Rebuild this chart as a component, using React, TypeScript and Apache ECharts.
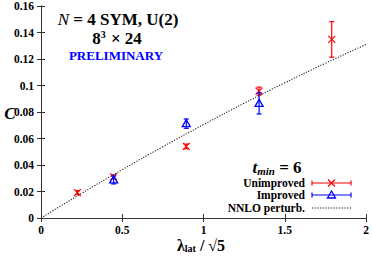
import React, { useEffect, useRef } from "react";
import * as echarts from "echarts";

const xUnimp = [0.224, 0.447, 0.894, 1.342, 1.789];
const yUnimp = [0.0192, 0.031, 0.054, 0.0958, 0.1348];
const eUnimp = [0.0015, 0.0015, 0.0018, 0.003, 0.0134];

const xImp = [0.447, 0.894, 1.342];
const yImp = [0.0287, 0.0712, 0.0865];
const eImp = [0.003, 0.0035, 0.008];

const xNNLO = [0, 0.25, 0.5, 0.75, 1, 1.25, 1.5, 1.75, 2];
const yNNLO = [0, 0.0186, 0.0365, 0.0538, 0.0705, 0.0866, 0.102, 0.1168, 0.131];

const FONT = "Liberation Serif";
const RED = "#ff0000";
const BLUE = "#0000ff";

function makeRender(kind: "x" | "tri", color: string) {
  return (params: any, api: any) => {
    const x = api.value(0);
    const y = api.value(1);
    const e = api.value(2);
    const p = api.coord([x, y]);
    const t = api.coord([x, y + e]);
    const b = api.coord([x, y - e]);
    const cap = 2.5;
    const st = { stroke: color, lineWidth: 1.2, fill: "none" };
    const children: any[] = [
      { type: "line", shape: { x1: p[0], y1: t[1], x2: p[0], y2: b[1] }, style: st },
      { type: "line", shape: { x1: p[0] - cap, y1: t[1], x2: p[0] + cap, y2: t[1] }, style: st },
      { type: "line", shape: { x1: p[0] - cap, y1: b[1], x2: p[0] + cap, y2: b[1] }, style: st },
    ];
    if (kind === "x") {
      const s = 3.5;
      children.push(
        { type: "line", shape: { x1: p[0] - s, y1: p[1] - s, x2: p[0] + s, y2: p[1] + s }, style: st },
        { type: "line", shape: { x1: p[0] - s, y1: p[1] + s, x2: p[0] + s, y2: p[1] - s }, style: st }
      );
    } else {
      const s = 4;
      children.push({
        type: "polygon",
        shape: { points: [[p[0], p[1] - s], [p[0] - s, p[1] + s * 0.75], [p[0] + s, p[1] + s * 0.75]] },
        style: { stroke: color, lineWidth: 1.3, fill: "none" },
      });
    }
    return { type: "group", children };
  };
}

function legendRow(y: number, label: string, color: string, kind: "x" | "tri" | "dot"): any[] {
  const x1 = 312, x2 = 351, cx = 331.5;
  const items: any[] = [
    {
      type: "text", x: 305, y, style: {
        text: label, fontFamily: FONT, fontWeight: "bold", fontSize: 11.5, fill: "#000", align: "right", verticalAlign: "middle",
      },
    },
  ];
  if (kind === "dot") {
    items.push({ type: "line", shape: { x1, y1: y, x2, y2: y }, style: { stroke: "#222", lineWidth: 1.1, lineDash: [1.2, 1.5] } });
    return items;
  }
  const st = { stroke: color, lineWidth: 1.2, fill: "none" };
  items.push(
    { type: "line", shape: { x1, y1: y, x2, y2: y }, style: st },
    { type: "line", shape: { x1, y1: y - 2.5, x2: x1, y2: y + 2.5 }, style: st },
    { type: "line", shape: { x1: x2, y1: y - 2.5, x2, y2: y + 2.5 }, style: st }
  );
  if (kind === "x") {
    const s = 3.5;
    items.push(
      { type: "line", shape: { x1: cx - s, y1: y - s, x2: cx + s, y2: y + s }, style: st },
      { type: "line", shape: { x1: cx - s, y1: y + s, x2: cx + s, y2: y - s }, style: st }
    );
  } else {
    const s = 4;
    items.push({ type: "polygon", shape: { points: [[cx, y - s], [cx - s, y + s * 0.75], [cx + s, y + s * 0.75]] }, style: { stroke: color, lineWidth: 1.3, fill: "none" } });
  }
  return items;
}

export default function App() {
  const ref = useRef<HTMLDivElement>(null);
  useEffect(() => {
    if (!ref.current) return;
    const chart = echarts.init(ref.current, null, { renderer: "svg" });
    const axisLine = { show: true, lineStyle: { color: "#333", width: 1 } };
    const tick = { show: true, inside: true, length: 4, lineStyle: { color: "#333" } };
    const label = { fontFamily: FONT, fontWeight: "bold" as const, fontSize: 11.5, color: "#000" };
    chart.setOption({
      animation: false,
      textStyle: { fontFamily: FONT },
      grid: { left: 41, right: 8, top: 6, bottom: 42 },
      xAxis: [
        { type: "value", min: 0, max: 2, interval: 0.5, position: "bottom", axisLine, axisTick: tick, splitLine: { show: false }, axisLabel: { ...label, margin: 6 } },
        { type: "value", min: 0, max: 2, interval: 0.5, position: "top", axisLine, axisTick: tick, splitLine: { show: false }, axisLabel: { show: false } },
      ],
      yAxis: [
        { type: "value", min: 0, max: 0.16, interval: 0.02, position: "left", axisLine, axisTick: tick, splitLine: { show: false }, axisLabel: { ...label, margin: 7 } },
        { type: "value", min: 0, max: 0.16, interval: 0.02, position: "right", axisLine, axisTick: tick, splitLine: { show: false }, axisLabel: { show: false } },
      ],
      series: [
        {
          type: "line", data: xNNLO.map((x, i) => [x, yNNLO[i]]), smooth: true, showSymbol: false,
          lineStyle: { color: "#222", width: 1.1, type: [1.2, 1.5] },
        },
        {
          type: "custom", data: xUnimp.map((x, i) => [x, yUnimp[i], eUnimp[i]]),
          renderItem: makeRender("x", RED),
        },
        {
          type: "custom", data: xImp.map((x, i) => [x, yImp[i], eImp[i]]),
          renderItem: makeRender("tri", BLUE),
        },
      ],
      graphic: [
        {
          type: "text", x: 118, y: 19, style: {
            text: "{i|N}{b| = 4 SYM, U(2)}", align: "center", verticalAlign: "middle", fill: "#000",
            rich: {
              i: { fontStyle: "italic", fontFamily: FONT, fontSize: 17 },
              b: { fontWeight: "bold", fontFamily: FONT, fontSize: 17 },
            },
          } as any,
        },
        {
          type: "text", x: 117, y: 38, style: {
            text: "{b|8}{s|3}{b| × 24}", align: "center", verticalAlign: "middle", fill: "#000",
            rich: {
              b: { fontWeight: "bold", fontFamily: FONT, fontSize: 17 },
              s: { fontSize: 10, fontWeight: "bold", fontFamily: FONT, padding: [0, 1, 8, 0] },
            },
          } as any,
        },
        {
          type: "text", x: 116, y: 55, style: {
            text: "PRELIMINARY", fontFamily: FONT, fontWeight: "bold", fontSize: 13, fill: BLUE, align: "center", verticalAlign: "middle",
          },
        },
        {
          type: "text", x: 10, y: 113, style: {
            text: "C", fontFamily: FONT, fontWeight: "bold", fontStyle: "italic", fontSize: 17, fill: "#000", align: "center", verticalAlign: "middle",
          },
        },
        {
          type: "text", x: 201, y: 245, style: {
            text: "{l|λ}{s|lat}{l| / √5}", fill: "#000", align: "center", verticalAlign: "middle",
            rich: {
              l: { fontFamily: FONT, fontWeight: "bold", fontSize: 16 },
              s: { fontFamily: FONT, fontWeight: "bold", fontSize: 10, padding: [7, 0, 0, 0] },
            },
          } as any,
        },
        {
          type: "text", x: 277, y: 167, style: {
            text: "{t|t}{s|min}{n| = 6}", fill: "#000", align: "center", verticalAlign: "middle",
            rich: {
              t: { fontFamily: FONT, fontWeight: "bold", fontStyle: "italic", fontSize: 17 },
              s: { fontFamily: FONT, fontWeight: "bold", fontStyle: "italic", fontSize: 11, padding: [7, 0, 0, 0] },
              n: { fontFamily: FONT, fontWeight: "bold", fontSize: 17 },
            },
          } as any,
        },
        ...legendRow(183, "Unimproved", RED, "x"),
        ...legendRow(195, "Improved", BLUE, "tri"),
        ...legendRow(208, "NNLO perturb.", "#222", "dot"),
      ],
    });
    return () => chart.dispose();
  }, []);
  return <div ref={ref} style={{ width: 374, height: 260, position: "absolute", left: 0, top: 0 }} />;
}
